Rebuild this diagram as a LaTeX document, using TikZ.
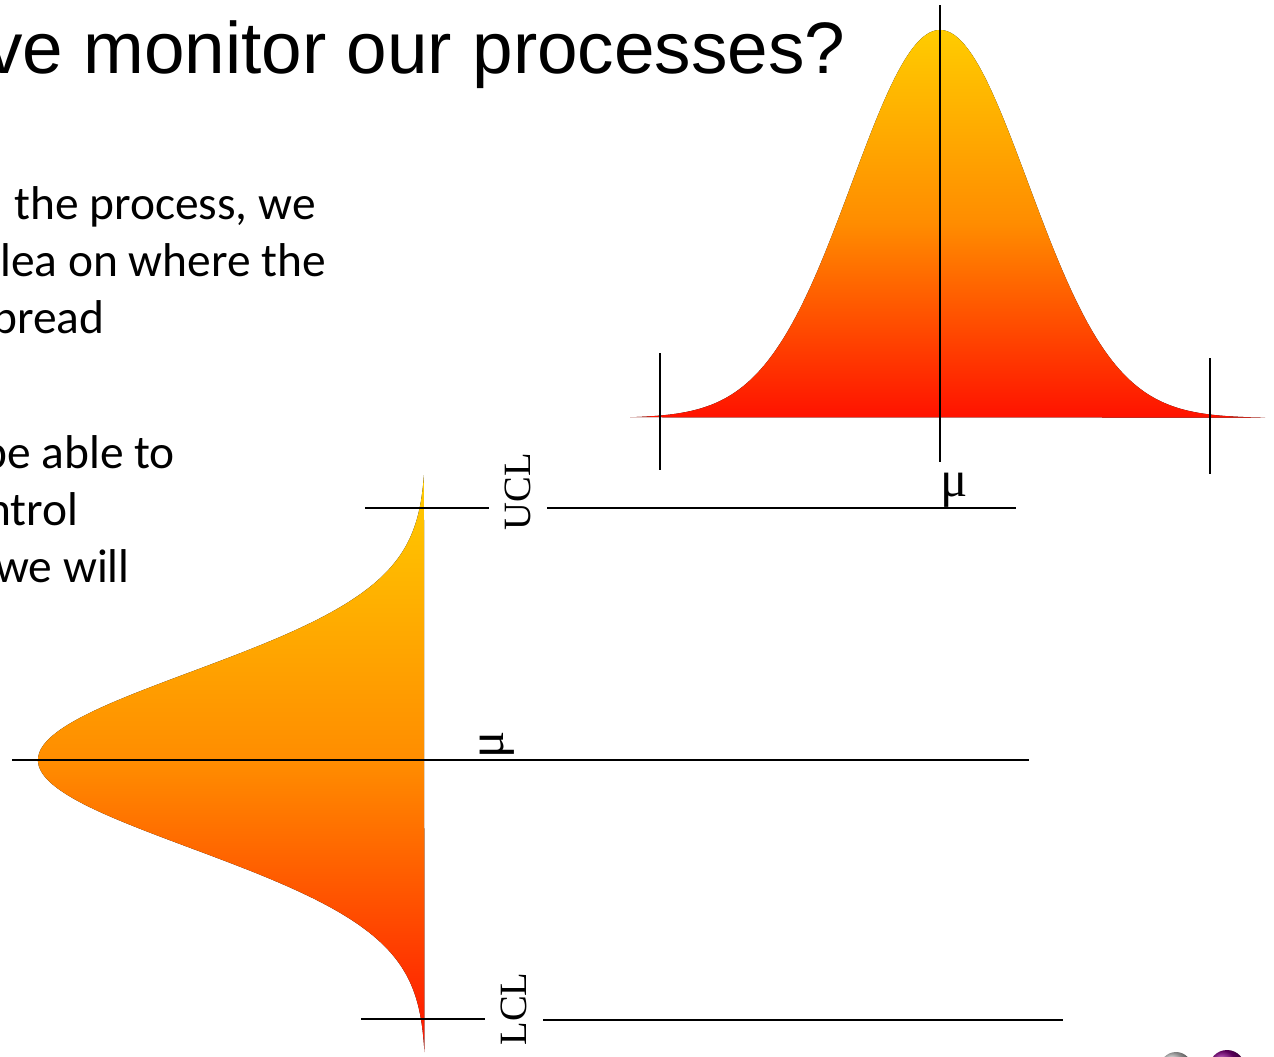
\documentclass[tikz,border=0pt]{standalone}
\usepackage{fontspec}
\setmainfont{Liberation Serif}
\newfontfamily\titlefont{Liberation Sans}
\newfontfamily\bodyfont{Carlito}
\usepackage{tikz}
\usetikzlibrary{positioning, calc}
\definecolor{bellyellow}{RGB}{255,204,0}
\definecolor{bellorange}{RGB}{255,140,0}
\definecolor{bellred}{RGB}{255,18,0}
\definecolor{logopurple}{RGB}{128,0,128}
\tikzstyle{slidetitle} = [anchor=base west, inner sep=0pt, font=\titlefont\fontsize{41.5}{50}\selectfont]
\tikzstyle{bodytext} = [anchor=base west, inner sep=0pt, font=\bodyfont\fontsize{27}{32}\selectfont]
\tikzstyle{limitlabel} = [inner sep=9pt, font=\fontsize{22}{26}\selectfont]
\tikzstyle{meanlabel} = [inner sep=0pt, font=\fontsize{29}{32}\selectfont]
\tikzstyle{axisline} = [line width=1.1pt, black]
\tikzstyle{bell} = [top color=bellyellow, bottom color=bellred, middle color=bellorange]

\begin{document}
\begin{tikzpicture}[x=0.02cm, y=-0.02cm]
    \useasboundingbox (0,0) rectangle (1274,1056);
    \clip (0,0) rectangle (1274,1056);

    % === TEXT OF THE SLIDE (cut at the left edge) ===
    \node (title) [slidetitle] at (-14,73) {ve monitor our processes?};
    \node (line1) [bodytext] at (14,219) {the process, we};
    \node (line2) [bodytext] at (0,276) {lea on where the};
    \node (line3) [bodytext] at (-8,333) {pread};
    \node (line4) [bodytext] at (-18,468) {be able to};
    \node (line5) [bodytext] at (-14,525) {ntrol};
    \node (line6) [bodytext] at (-5,582) {we will};

    % === TOP: upright bell curve ===
    \fill[bell] plot[domain=-310:325, samples=140, smooth]
        ({940+\x}, {418-388*exp(-0.5*(\x/88)*(\x/88))}) -- cycle;
    \coordinate (centretop) at (940,5);
    \coordinate (centrebot) at (940,462);
    \coordinate (lefttop) at (660,353);
    \coordinate (leftbot) at (660,470);
    \coordinate (righttop) at (1210,358);
    \coordinate (rightbot) at (1210,474);
    \draw[axisline] (centretop) -- (centrebot);
    \draw[axisline] (lefttop) -- (leftbot);
    \draw[axisline] (righttop) -- (rightbot);
    \node (mutop) [meanlabel] at (954,490) {μ};

    % === LEFT: bell curve on its side ===
    \fill[bell] plot[domain=-285:292, samples=140, smooth]
        ({426-388*exp(-0.5*(\x/88)*(\x/88))}, {760+\x}) -- cycle;

    % control limits
    \node (ucl) [limitlabel, rotate=90] at (518,492) {UCL};
    \node (muside) [meanlabel, rotate=90] at (497,745) {μ};
    \node (lcl) [limitlabel, rotate=90] at (514,1009) {LCL};

    \coordinate (uclstart) at (365,508);
    \coordinate (uclend) at (1016,508);
    \coordinate (mustart) at (12,760);
    \coordinate (muend) at (1029,760);
    \coordinate (lclstart) at (361,1019);
    \coordinate (lclend) at (1063,1020);

    \draw[axisline] (uclstart) -- (uclstart -| ucl.north);
    \draw[axisline] (ucl.south |- uclend) -- (uclend);
    \draw[axisline] (mustart) -- (muend);
    \draw[axisline] (lclstart) -- (lclstart -| lcl.north);
    \draw[axisline] (lcl.south |- lclend) -- (lclend);

    % logo, cut at the bottom edge
    \shade[ball color=gray!45] (1176,1068) circle[radius=16];
    \shade[ball color=logopurple] (1227,1068) circle[radius=18];
\end{tikzpicture}
\end{document}
